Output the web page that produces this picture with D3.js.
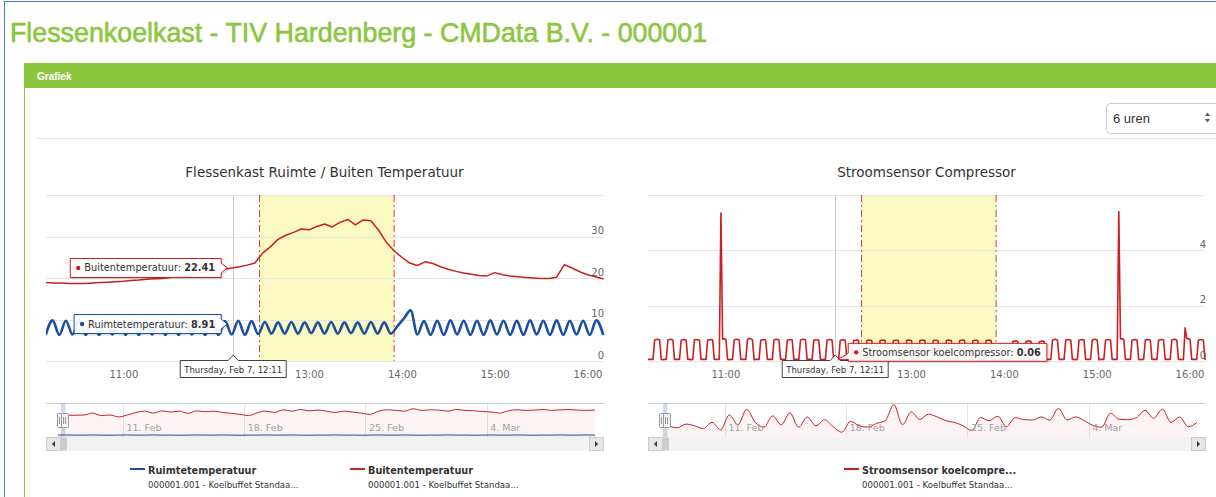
<!DOCTYPE html>
<html>
<head>
<meta charset="utf-8">
<script src="https://cdn.jsdelivr.net/npm/d3@7"></script>
<style>
  body { margin: 0; background: #fff; overflow: hidden; }
  svg { display: block; }
</style>
</head>
<body>
<script>
// ---- data ----
var pageTitle = 'Flessenkoelkast - TIV Hardenberg - CMData B.V. - 000001';
var panelTitle = 'Grafiek';
var periodLabel = '6 uren';

var rangeStart = new Date(2019, 1, 7, 10, 10);
var rangeEnd = new Date(2019, 1, 7, 16, 10);
var hoverTime = new Date(2019, 1, 7, 12, 11);
var bandStart = new Date(2019, 1, 7, 12, 28);
var bandEnd = new Date(2019, 1, 7, 13, 55);

var tempGridTicks = [0, 10, 20, 30, 40];
var tempLabelTicks = [0, 10, 20, 30];
var stroomGridTicks = [0, 2, 4, 6];
var stroomLabelTicks = [0, 2, 4];

// Buitentemperatuur, one value every 5 minutes from 10:10
var buitenStepMin = 5;
var buitenValues = [
  18.9, 18.8, 18.8, 18.7, 18.7, 18.7, 18.8, 18.9, 19.0, 19.1,
  19.2, 19.4, 19.5, 19.7, 19.8, 19.9, 20.1, 20.3, 20.6, 20.9,
  21.3, 21.6, 21.9, 22.1, 22.4, 22.7, 23.1, 23.6, 26.0, 27.5,
  29.3, 30.3, 31.0, 31.8, 31.6, 32.4, 33.0, 32.3, 33.4, 34.1,
  32.8, 34.0, 33.8, 31.5, 28.6, 26.5, 25.0, 23.6, 23.0, 23.9,
  23.5, 22.7, 22.1, 21.6, 21.2, 20.9, 20.6, 20.5, 21.3, 20.8,
  20.5, 20.3, 20.1, 20.0, 19.9, 19.9, 20.2, 23.2, 22.4, 21.5,
  20.8, 20.3, 19.8
];

// Ruimtetemperatuur, 85 points over the 6 hours
var ruimteStepMin = 360 / 84;
var ruimteValues = [
  6.5, 9.8, 6.3, 9.7, 6.4, 9.8, 6.3, 9.7, 6.3, 9.8,
  6.4, 9.7, 6.3, 9.8, 6.3, 9.7, 6.4, 9.8, 6.3, 9.7,
  6.3, 9.8, 6.4, 9.7, 6.3, 9.8, 6.3, 9.6, 6.4, 9.7,
  6.3, 9.6, 6.5, 9.4, 6.6, 9.3, 6.6, 9.4, 6.6, 9.3,
  6.7, 9.3, 6.6, 9.4, 6.6, 9.3, 6.7, 9.3, 6.6, 9.4,
  6.6, 9.3, 6.6, 8.4, 10.3, 12.2, 6.4, 9.6, 6.3, 9.7,
  6.3, 9.8, 6.4, 9.7, 6.3, 9.7, 6.3, 9.8, 6.4, 9.7,
  6.3, 9.7, 6.3, 9.8, 6.4, 9.7, 6.3, 9.8, 6.3, 9.7,
  6.4, 9.7, 6.3, 9.8, 6.5
];

// Stroomsensor koelcompressor, 337 points over the 6 hours (one compressor cycle per row)
var stroomStepMin = 360 / 336;
var stroomValues = [
  0.06, 0.06, 0.06, 0.06, 0.76, 0.78, 0.78, 0.77,
  0.06, 0.05, 0.06, 0.06, 0.76, 0.78, 0.78, 0.76,
  0.06, 0.06, 0.06, 0.06, 0.75, 0.77, 0.78, 0.76,
  0.06, 0.06, 0.05, 0.06, 0.76, 0.78, 0.77, 0.76,
  0.06, 0.06, 0.06, 0.06, 0.76, 0.77, 0.78, 0.76,
  0.06, 0.06, 0.06, 0.06, 5.35, 0.80, 0.80, 0.78,
  0.06, 0.05, 0.06, 0.06, 0.76, 0.78, 0.78, 0.76,
  0.06, 0.06, 0.06, 0.06, 0.78, 0.82, 0.80, 0.77,
  0.05, 0.06, 0.06, 0.06, 0.75, 0.77, 0.77, 0.76,
  0.06, 0.06, 0.06, 0.06, 0.76, 0.78, 0.78, 0.76,
  0.06, 0.06, 0.05, 0.06, 0.75, 0.77, 0.77, 0.76,
  0.06, 0.06, 0.06, 0.06, 0.76, 0.78, 0.78, 0.77,
  0.06, 0.06, 0.06, 0.06, 0.75, 0.77, 0.77, 0.75,
  0.06, 0.05, 0.06, 0.06, 0.76, 0.77, 0.78, 0.76,
  0.06, 0.06, 0.06, 0.06, 0.75, 0.76, 0.77, 0.75,
  0.06, 0.06, 0.06, 0.06, 0.74, 0.75, 0.76, 0.74,
  0.06, 0.06, 0.06, 0.05, 0.74, 0.76, 0.75, 0.74,
  0.06, 0.06, 0.06, 0.06, 0.74, 0.75, 0.76, 0.74,
  0.05, 0.06, 0.06, 0.06, 0.73, 0.75, 0.75, 0.74,
  0.06, 0.06, 0.06, 0.06, 0.74, 0.76, 0.75, 0.74,
  0.06, 0.06, 0.05, 0.06, 0.74, 0.75, 0.76, 0.74,
  0.06, 0.06, 0.06, 0.06, 0.74, 0.75, 0.75, 0.73,
  0.06, 0.05, 0.06, 0.06, 0.74, 0.76, 0.75, 0.74,
  0.06, 0.06, 0.06, 0.06, 0.74, 0.75, 0.76, 0.74,
  0.06, 0.06, 0.06, 0.06, 0.73, 0.75, 0.75, 0.74,
  0.06, 0.06, 0.06, 0.05, 0.74, 0.75, 0.76, 0.74,
  0.06, 0.06, 0.06, 0.06, 0.06, 0.06, 0.06, 0.06,
  0.06, 0.06, 0.06, 0.06, 0.70, 0.72, 0.72, 0.71,
  0.06, 0.06, 0.06, 0.06, 0.70, 0.72, 0.72, 0.71,
  0.06, 0.05, 0.06, 0.06, 0.69, 0.71, 0.72, 0.70,
  0.06, 0.06, 0.06, 0.06, 0.76, 0.78, 0.78, 0.76,
  0.06, 0.06, 0.06, 0.06, 0.76, 0.78, 0.77, 0.76,
  0.06, 0.06, 0.05, 0.06, 0.75, 0.77, 0.78, 0.76,
  0.06, 0.06, 0.06, 0.06, 0.76, 0.78, 0.78, 0.76,
  0.05, 0.06, 0.06, 0.06, 0.75, 0.77, 0.77, 0.76,
  0.06, 0.06, 0.06, 0.06, 5.40, 0.80, 0.80, 0.78,
  0.06, 0.06, 0.06, 0.06, 0.76, 0.77, 0.78, 0.76,
  0.06, 0.05, 0.06, 0.06, 0.76, 0.78, 0.77, 0.76,
  0.06, 0.06, 0.06, 0.06, 0.75, 0.77, 0.78, 0.76,
  0.06, 0.06, 0.06, 0.06, 0.76, 0.78, 0.78, 0.76,
  0.06, 0.06, 0.05, 0.06, 1.20, 0.82, 0.80, 0.78,
  0.06, 0.06, 0.06, 0.06, 0.76, 0.77, 0.77, 0.76,
  0.06
];

var hoverBuiten = 22.41;
var hoverRuimte = 8.91;
var hoverStroom = 0.06;

// navigator: one point every 12 hours from Feb 7 06:00 to Mar 10 06:00
var navStart = new Date(2019, 1, 7, 6, 0);
var navEnd = new Date(2019, 2, 10, 6, 0);
var navStepHours = 12;
var navTicks = [new Date(2019, 1, 11), new Date(2019, 1, 18), new Date(2019, 1, 25), new Date(2019, 2, 4)];
var navTempDomain = [7, 30];
var navStroomDomain = [0, 1];
var navBuiten = [
  21.2, 21.7, 21.7, 21.9, 23.2, 21.5, 21.9, 20.6, 21.9, 23.6,
  24.5, 23.2, 24.7, 23.9, 24.5, 23.0, 24.7, 24.1, 24.5, 23.6,
  23.0, 22.3, 21.5, 23.4, 24.5, 23.6, 25.4, 24.5, 25.6, 24.7,
  25.2, 24.5, 23.6, 24.5, 23.9, 23.2, 22.3, 24.5, 25.4, 25.0,
  24.5, 26.1, 25.0, 25.4, 25.2, 24.5, 25.6, 25.0, 24.7, 24.3,
  23.9, 23.2, 24.7, 25.4, 25.0, 25.2, 25.6, 25.0, 25.4, 25.6,
  25.2, 25.0, 25.2
];
var navRuimte = [
  8.3, 8.4, 8.3, 8.3, 8.4, 8.3, 8.2, 8.3, 8.4, 8.3,
  8.3, 8.4, 8.3, 8.3, 8.2, 8.3, 8.4, 8.3, 8.3, 8.4,
  8.3, 8.2, 8.3, 8.3, 8.4, 8.3, 8.3, 8.4, 8.3, 8.2,
  8.3, 8.3, 8.4, 8.3, 8.3, 8.2, 8.3, 8.4, 8.3, 8.3,
  8.4, 8.3, 8.2, 8.3, 8.3, 8.4, 8.3, 8.3, 8.2, 8.3,
  8.4, 8.3, 8.3, 8.4, 8.3, 8.2, 8.3, 8.3, 8.4, 8.3,
  8.3, 8.4, 8.3
];
var navStroom = [
  0.48, 0.33, 0.27, 0.38, 0.33, 0.25, 0.43, 0.21, 0.65, 0.36,
  0.81, 0.43, 0.29, 0.62, 0.36, 0.71, 0.29, 0.59, 0.33, 0.51,
  0.30, 0.14, 0.46, 0.33, 0.29, 0.40, 0.48, 0.95, 0.36, 0.74,
  0.52, 0.67, 0.59, 0.48, 0.43, 0.33, 0.19, 0.57, 0.48, 0.61,
  0.30, 0.57, 0.51, 0.50, 0.59, 0.50, 0.84, 0.50, 0.59, 0.48,
  0.34, 0.29, 0.70, 0.52, 0.51, 0.57, 0.78, 0.55, 0.82, 0.43,
  0.59, 0.30, 0.43
];

var legendSub = '000001.001 - Koelbuffet Standaa...';

// ---- drawing ----
var FONT = "'DejaVu Sans', sans-serif";
var red = '#cc1f1f', blue = '#1d4f9e';
var plotTop = 195, plotBottom = 361;
var navTop = 403, navBottom = 437;

var svg = d3.select('body').append('svg').attr('width', 1216).attr('height', 497);

// page frame + title
svg.append('rect').attr('x', 4.5).attr('y', 1.5).attr('width', 1400).attr('height', 700)
  .attr('fill', 'none').attr('stroke', '#4b7bd8');
svg.append('text').attr('x', 10).attr('y', 42).text(pageTitle)
  .attr('font-family', "'Liberation Sans', Arial, sans-serif").attr('font-size', 26.8)
  .attr('fill', '#8cc63f').attr('stroke', '#8cc63f').attr('stroke-width', 0.6);

// panel
svg.append('rect').attr('x', 24.5).attr('y', 63.5).attr('width', 1400).attr('height', 700).attr('rx', 3)
  .attr('fill', '#fff').attr('stroke', '#8cc63f');
svg.append('rect').attr('x', 24).attr('y', 63).attr('width', 1400).attr('height', 25).attr('fill', '#8cc63f');
svg.append('text').attr('x', 37).attr('y', 80).text(panelTitle)
  .attr('font-family', "'Liberation Sans', Arial, sans-serif").attr('font-size', 10)
  .attr('font-weight', 'bold').attr('fill', '#fff');

// period dropdown
svg.append('rect').attr('x', 1106.5).attr('y', 103.5).attr('width', 130).attr('height', 30).attr('rx', 4)
  .attr('fill', '#fff').attr('stroke', '#cccccc');
svg.append('text').attr('x', 1113).attr('y', 123).text(periodLabel)
  .attr('font-family', "'Liberation Sans', Arial, sans-serif").attr('font-size', 13).attr('fill', '#333');
svg.append('path').attr('d', 'M1205,116 L1207.5,112.5 L1210,116 Z M1205,119 L1207.5,122.5 L1210,119 Z').attr('fill', '#555');
svg.append('line').attr('x1', 37).attr('x2', 1216).attr('y1', 138.5).attr('y2', 138.5).attr('stroke', '#e5e5e5');

function timeAt(i, stepMin) { return new Date(rangeStart.getTime() + i * stepMin * 60000); }
function navTimeAt(i) { return new Date(navStart.getTime() + i * navStepHours * 3600000); }

function calloutPath(x0, y0, w, h, tip, side) {
  var x1 = x0 + w, y1 = y0 + h, p = d3.path();
  p.moveTo(x0, y0);
  if (side === 'top') { p.lineTo(tip[0] - 5, y0); p.lineTo(tip[0], tip[1]); p.lineTo(tip[0] + 5, y0); }
  p.lineTo(x1, y0);
  if (side === 'right') { p.lineTo(x1, tip[1] - 5); p.lineTo(tip[0], tip[1]); p.lineTo(x1, tip[1] + 5); }
  p.lineTo(x1, y1);
  p.lineTo(x0, y1);
  if (side === 'left') { p.lineTo(x0, y1 - 2); p.lineTo(tip[0], tip[1]); p.lineTo(x0, y1 - 8); }
  p.closePath();
  return p.toString();
}

function seriesTooltip(g, px, py, name, value, color, side) {
  var box = g.append('g');
  var shadow = box.append('path');
  var outline = box.append('path');
  var t = box.append('text').attr('font-family', FONT).attr('font-size', 9.8).attr('fill', '#333');
  t.append('tspan').text(name + ': ');
  t.append('tspan').attr('font-weight', 'bold').text(value.toFixed(2));
  var w = t.node().getComputedTextLength() + 20, h = 19;
  var x0, y0, tip;
  if (side === 'right') { x0 = px - 12 - w; y0 = py - h / 2; tip = [px - 6, py]; }
  else { x0 = px + 13; y0 = py - 16; h = 18; tip = [px + 3, py]; }
  var d = calloutPath(x0, y0, w, h, tip, side);
  shadow.attr('d', d).attr('transform', 'translate(1,1)').attr('fill', 'none')
    .attr('stroke', 'rgba(0,0,0,0.12)').attr('stroke-width', 2);
  outline.attr('d', d).attr('fill', 'rgba(255,255,255,0.92)').attr('stroke', color);
  box.append('circle').attr('cx', x0 + 8).attr('cy', y0 + h / 2).attr('r', 2.2).attr('fill', color);
  t.attr('x', x0 + 14).attr('y', y0 + h / 2 + 3.5).raise();
}

function dateTooltip(g, px) {
  var box = g.append('g');
  var outline = box.append('path');
  var t = box.append('text').attr('font-family', FONT).attr('font-size', 8.5).attr('fill', '#333')
    .text(d3.timeFormat('%A, %b %-d, %H:%M')(hoverTime));
  var w = t.node().getComputedTextLength() + 8, h = 17, x0 = px - w / 2, y0 = 360.5;
  outline.attr('d', calloutPath(x0, y0, w, h, [px, 355], 'top'))
    .attr('fill', 'rgba(255,255,255,0.95)').attr('stroke', '#444');
  t.attr('x', x0 + 4).attr('y', y0 + 12);
}

function drawChart(cfg) {
  var g = svg.append('g');
  var x = d3.scaleTime().domain([rangeStart, rangeEnd]).range([cfg.left, cfg.right]);
  var y = d3.scaleLinear().domain(cfg.yDomain).range([plotBottom, plotTop]);

  g.append('text').attr('x', (cfg.left + cfg.right) / 2).attr('y', 177).attr('text-anchor', 'middle')
    .attr('font-family', FONT).attr('font-size', 13.5).attr('fill', '#333').text(cfg.title);

  // plot band
  g.append('rect').attr('x', x(bandStart)).attr('y', plotTop)
    .attr('width', x(bandEnd) - x(bandStart)).attr('height', plotBottom - plotTop).attr('fill', '#fbf9c2');

  // grid
  g.selectAll('line.grid').data(cfg.gridTicks).join('line').attr('class', 'grid')
    .attr('x1', cfg.left).attr('x2', cfg.right).attr('y1', d => Math.round(y(d)) + 0.5).attr('y2', d => Math.round(y(d)) + 0.5)
    .attr('stroke', '#e6e6e6');

  g.selectAll('line.bandedge').data([bandStart, bandEnd]).join('line').attr('class', 'bandedge')
    .attr('x1', d => x(d)).attr('x2', d => x(d)).attr('y1', plotTop).attr('y2', plotBottom)
    .attr('stroke', '#e23a40').attr('stroke-width', 1).attr('stroke-dasharray', '7,3,2,3');

  // crosshair
  g.append('line').attr('x1', Math.round(x(hoverTime)) + 0.5).attr('x2', Math.round(x(hoverTime)) + 0.5)
    .attr('y1', plotTop).attr('y2', plotBottom).attr('stroke', '#cccccc');

  // axes
  var yAxis = d3.axisLeft(y).tickValues(cfg.labelTicks).tickFormat(d3.format('d')).tickSize(0).tickPadding(0);
  g.append('g').attr('transform', 'translate(' + (cfg.right + 1) + ',0)').call(yAxis)
    .call(a => {
      a.select('.domain').remove();
      a.selectAll('text').attr('dy', '-3px').attr('font-family', FONT).attr('font-size', 10).attr('fill', '#666');
    });
  var xAxis = d3.axisBottom(x).ticks(d3.timeHour.every(1)).tickFormat(d3.timeFormat('%H:%M')).tickSize(0).tickPadding(0);
  g.append('g').attr('transform', 'translate(0,' + 371 + ')').call(xAxis)
    .call(a => {
      a.select('.domain').remove();
      a.selectAll('text').attr('dy', '0.71em').attr('font-family', FONT).attr('font-size', 10).attr('fill', '#666');
    });

  // series
  var clipId = 'clip' + cfg.left;
  g.append('clipPath').attr('id', clipId).append('rect')
    .attr('x', cfg.left).attr('y', plotTop - 10).attr('width', cfg.right - cfg.left + 2).attr('height', plotBottom - plotTop + 12);
  cfg.series.forEach(s => {
    var line = d3.line().x((v, i) => x(timeAt(i, s.step))).y(v => y(v)).curve(s.curve);
    g.append('path').datum(s.values).attr('d', line).attr('clip-path', 'url(#' + clipId + ')')
      .attr('fill', 'none').attr('stroke', s.color).attr('stroke-width', s.width)
      .attr('stroke-linejoin', 'round').attr('stroke-linecap', 'round');
  });

  // navigator
  var nx = d3.scaleTime().domain([navStart, navEnd]).range([cfg.left + 12, cfg.right - 8]);
  var ny = d3.scaleLinear().domain(cfg.navDomain).range([navBottom, navTop]);
  g.selectAll('line.navgrid').data(navTicks).join('line').attr('class', 'navgrid')
    .attr('x1', d => Math.round(nx(d)) + 0.5).attr('x2', d => Math.round(nx(d)) + 0.5)
    .attr('y1', navTop).attr('y2', navBottom).attr('stroke', '#e6e6e6');
  cfg.series.slice().reverse().forEach(s => {
    var area = d3.area().x((v, i) => nx(navTimeAt(i))).y0(navBottom).y1(v => ny(v)).curve(d3.curveMonotoneX);
    var line = d3.line().x((v, i) => nx(navTimeAt(i))).y(v => ny(v)).curve(d3.curveMonotoneX);
    g.append('path').datum(s.nav).attr('d', area).attr('fill', s.color).attr('fill-opacity', 0.05);
    g.append('path').datum(s.nav).attr('d', line).attr('fill', 'none').attr('stroke', s.color).attr('stroke-width', 1);
  });
  var navAxis = d3.axisBottom(nx).tickValues(navTicks).tickFormat(d3.timeFormat('%-d. %b')).tickSize(0).tickPadding(0);
  g.append('g').attr('transform', 'translate(0,431)').call(navAxis)
    .call(a => {
      a.select('.domain').remove();
      a.selectAll('text').attr('dy', 0).attr('x', 3).attr('text-anchor', 'start')
        .attr('font-family', FONT).attr('font-size', 9.5).attr('fill', '#a0a0a0');
    });
  g.append('line').attr('x1', cfg.left).attr('x2', cfg.right + 1).attr('y1', navTop + 0.5).attr('y2', navTop + 0.5).attr('stroke', '#cccccc');
  var s0 = nx(rangeStart), s1 = nx(rangeEnd);
  g.append('rect').attr('x', s0).attr('y', navTop).attr('width', s1 - s0).attr('height', navBottom - navTop)
    .attr('fill', 'rgba(102,133,194,0.3)');
  [s0, s1].forEach(hx => {
    g.append('rect').attr('x', Math.round(hx) - 3.5).attr('y', 413.5).attr('width', 7).attr('height', 14).attr('rx', 1)
      .attr('fill', '#f2f2f2').attr('stroke', '#999');
    g.append('path').attr('d', 'M' + (Math.round(hx) - 1.5) + ',417 V424 M' + (Math.round(hx) + 0.5) + ',417 V424')
      .attr('stroke', '#999');
  });

  // scrollbar
  g.append('rect').attr('x', cfg.left).attr('y', navBottom).attr('width', cfg.right - cfg.left + 1).attr('height', 14).attr('fill', '#f2f2f2');
  g.append('rect').attr('x', cfg.left + 0.5).attr('y', navBottom + 0.5).attr('width', 14).attr('height', 13)
    .attr('fill', '#e6e6e6').attr('stroke', '#cccccc');
  g.append('rect').attr('x', cfg.right - 13.5).attr('y', navBottom + 0.5).attr('width', 14).attr('height', 13)
    .attr('fill', '#e6e6e6').attr('stroke', '#cccccc');
  g.append('rect').attr('x', cfg.left + 15).attr('y', navBottom + 0.5).attr('width', Math.max(6, s1 - cfg.left - 15)).attr('height', 13)
    .attr('fill', '#cccccc');
  var ly = navBottom + 7;
  g.append('path').attr('d', 'M' + (cfg.left + 9) + ',' + (ly - 3) + ' L' + (cfg.left + 6) + ',' + ly + ' L' + (cfg.left + 9) + ',' + (ly + 3) + ' Z').attr('fill', '#333');
  g.append('path').attr('d', 'M' + (cfg.right - 8) + ',' + (ly - 3) + ' L' + (cfg.right - 5) + ',' + ly + ' L' + (cfg.right - 8) + ',' + (ly + 3) + ' Z').attr('fill', '#333');

  // legend
  cfg.series.forEach((s, i) => {
    var lx = cfg.legendX[i];
    g.append('line').attr('x1', lx).attr('x2', lx + 15).attr('y1', 469).attr('y2', 469).attr('stroke', s.color).attr('stroke-width', 2);
    g.append('text').attr('x', lx + 18).attr('y', 474).attr('font-family', FONT).attr('font-size', 9.7)
      .attr('font-weight', 'bold').attr('fill', '#333').text(s.legendName);
    g.append('text').attr('x', lx + 18).attr('y', 487.5).attr('font-family', FONT).attr('font-size', 8.6)
      .attr('fill', '#333').text(legendSub);
  });

  // tooltips
  var px = x(hoverTime);
  dateTooltip(g, px);
  cfg.series.slice().reverse().forEach(s => {
    seriesTooltip(g, px, y(s.hover), s.name, s.hover, s.color, cfg.tooltipSide);
  });
}

drawChart({
  left: 46, right: 603,
  title: 'Flessenkast Ruimte / Buiten Temperatuur',
  yDomain: [0, 40], gridTicks: tempGridTicks, labelTicks: tempLabelTicks,
  navDomain: navTempDomain,
  legendX: [130, 350],
  tooltipSide: 'right',
  series: [
    { name: 'Ruimtetemperatuur', legendName: 'Ruimtetemperatuur', values: ruimteValues, step: ruimteStepMin,
      color: blue, width: 2.6, curve: d3.curveMonotoneX, hover: hoverRuimte, nav: navRuimte },
    { name: 'Buitentemperatuur', legendName: 'Buitentemperatuur', values: buitenValues, step: buitenStepMin,
      color: red, width: 1.5, curve: d3.curveLinear, hover: hoverBuiten, nav: navBuiten }
  ]
});

drawChart({
  left: 648, right: 1205,
  title: 'Stroomsensor Compressor',
  yDomain: [0, 6], gridTicks: stroomGridTicks, labelTicks: stroomLabelTicks,
  navDomain: navStroomDomain,
  legendX: [844],
  tooltipSide: 'left',
  series: [
    { name: 'Stroomsensor koelcompressor', legendName: 'Stroomsensor koelcompre...', values: stroomValues, step: stroomStepMin,
      color: red, width: 1.6, curve: d3.curveLinear, hover: hoverStroom, nav: navStroom }
  ]
});
</script>
</body>
</html>
